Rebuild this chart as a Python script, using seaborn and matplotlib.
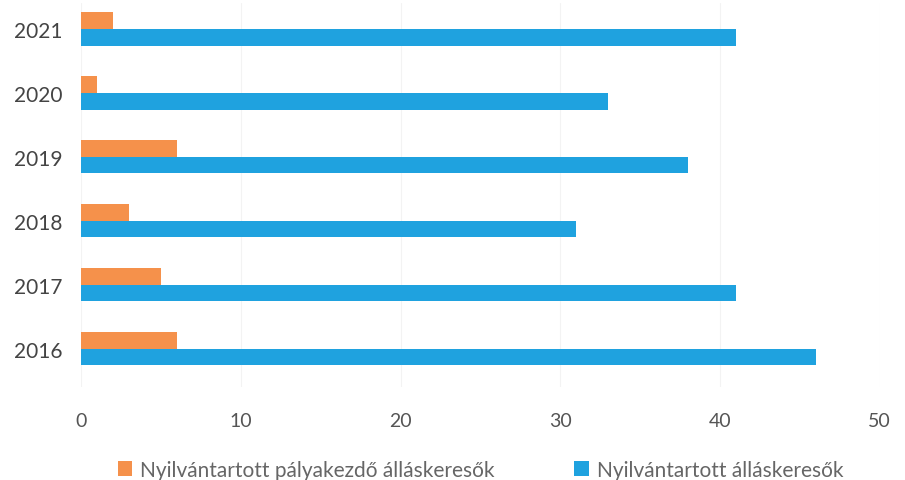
import pandas as pd
import matplotlib
matplotlib.use("Agg")
import matplotlib.pyplot as plt
import seaborn as sns

# Data
years = ["2021", "2020", "2019", "2018", "2017", "2016"]
palyakezdo = [2, 1, 6, 3, 5, 6]
osszes = [41, 33, 38, 31, 41, 46]
series_names = ["Nyilvántartott pályakezdő álláskeresők", "Nyilvántartott álláskeresők"]
x_ticks = [0, 10, 20, 30, 40, 50]

df = pd.DataFrame({
    "Év": years * 2,
    "Érték": palyakezdo + osszes,
    "Sorozat": [series_names[0]] * len(years) + [series_names[1]] * len(years),
})

sns.set_style("white")
plt.rcParams["font.family"] = ["Lato", "DejaVu Sans"]

fig = plt.figure(figsize=(9.05, 4.81), dpi=100)
ax = fig.add_axes([0.09, 0.193, 0.882, 0.798])

sns.barplot(data=df, x="Érték", y="Év", hue="Sorozat", order=years,
            hue_order=series_names, palette=["#F5914B", "#1FA2DF"],
            saturation=1, width=0.52, linewidth=0, orient="h", ax=ax, legend=True)

ax.set_xlim(0, 50)
ax.set_ylim(5.6, -0.4)
ax.set_xticks(x_ticks)
ax.set_xlabel("")
ax.set_ylabel("")
ax.grid(axis="x", color="#f3f3f3", linewidth=0.8)
ax.set_axisbelow(True)
sns.despine(ax=ax, left=True, bottom=True)
ax.tick_params(axis="x", length=0, pad=18, labelsize=14, labelcolor="#555555")
ax.tick_params(axis="y", length=0, pad=14, labelsize=15, labelcolor="#444444")

ax.legend(loc="upper center", bbox_to_anchor=(0.5, -0.14), ncol=2, frameon=False,
          fontsize=15, handlelength=0.7, handleheight=0.7, columnspacing=3.8,
          handletextpad=0.4, labelcolor="#666666")

fig.savefig("out.png", dpi=100)
